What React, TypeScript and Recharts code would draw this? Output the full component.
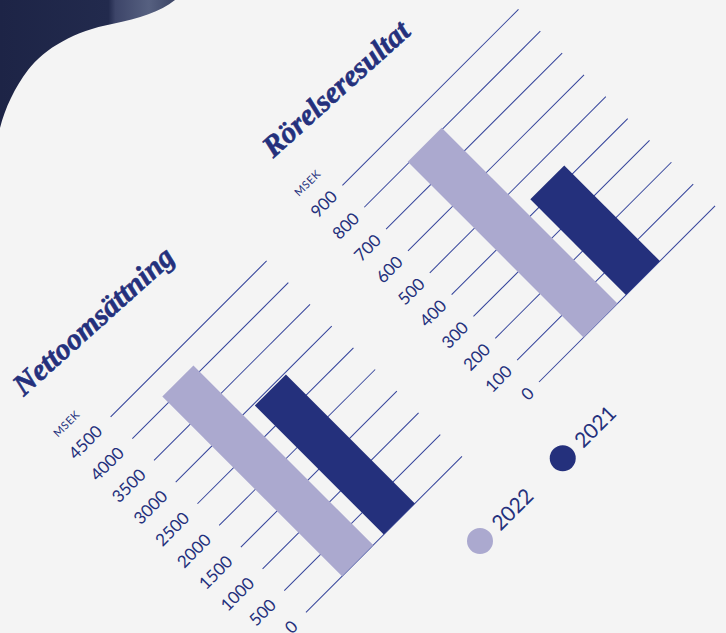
import { Bar, BarChart, CartesianGrid, XAxis, YAxis } from "recharts";

// values (MSEK)
const years = ["2022", "2021"];
const nettoValues = [4140, 2970];
const rorelseValues = [805, 438];
const nettoTicks = [0, 500, 1000, 1500, 2000, 2500, 3000, 3500, 4000, 4500];
const rorelseTicks = [0, 100, 200, 300, 400, 500, 600, 700, 800, 900];

const NAVY = "#24307c";
const LIGHT = "#aba9cf";
const GRID = "#33429a";
const BG = "#f4f4f4";
const seriesColors = [LIGHT, NAVY];

const AXIS_W = 80;
const TOP = 130;

type ChartProps = {
  title: string;
  values: number[];
  ticks: number[];
  x0: number;
  y0: number;
  plotW: number;
  plotH: number;
  barSize: number;
  barGap: number;
  padRight: number;
  tickGap: number;
  titleX: number;
  titleY: number;
  unitX: number;
};

function RotatedBars(p: ChartProps) {
  const row: Record<string, string | number> = { name: p.title };
  years.forEach((y, i) => (row["y" + y] = p.values[i]));
  const w = AXIS_W + p.plotW + 10;
  const h = TOP + p.plotH + 10;
  const ox = AXIS_W;
  const oy = TOP + p.plotH;
  const tx = ox + p.titleX;
  const ty = oy + p.titleY;

  return (
    <div
      style={{
        position: "absolute",
        left: p.x0 - ox,
        top: p.y0 - oy,
        width: w,
        height: h,
        transform: "rotate(-45deg)",
        transformOrigin: `${ox}px ${oy}px`,
      }}
    >
      <BarChart
        width={w}
        height={h}
        data={[row]}
        margin={{ top: TOP, right: 10, bottom: 10, left: 0 }}
        barGap={p.barGap}
      >
        <CartesianGrid vertical={false} stroke={GRID} strokeWidth={1} />
        <XAxis dataKey="name" hide padding={{ left: 0, right: p.padRight }} />
        <YAxis
          width={AXIS_W}
          domain={[0, p.ticks[p.ticks.length - 1]]}
          ticks={p.ticks}
          interval={0}
          axisLine={false}
          tickLine={false}
          tickSize={0}
          tickMargin={p.tickGap}
          tick={{ fill: NAVY, fontSize: 17, fontFamily: "Lato" }}
        />
        {years.map((y, i) => (
          <Bar
            key={y}
            dataKey={"y" + y}
            fill={seriesColors[i]}
            barSize={p.barSize}
            isAnimationActive={false}
          />
        ))}
      </BarChart>
      <svg
        width={w}
        height={h}
        style={{ position: "absolute", left: 0, top: 0, overflow: "visible", pointerEvents: "none" }}
      >
        <text
          x={tx}
          y={ty}
          transform={`rotate(3 ${tx} ${ty})`}
          fill={NAVY}
          stroke={NAVY}
          strokeWidth={0.6}
          fontFamily="Liberation Serif"
          fontWeight="bold"
          fontStyle="italic"
          fontSize={30}
        >
          {p.title}
        </text>
        <text
          x={ox + p.unitX}
          y={oy - p.plotH - 27}
          fill={NAVY}
          fontFamily="Lato"
          fontSize={11}
          textAnchor="middle"
          dominantBaseline="central"
          letterSpacing={0.5}
        >
          MSEK
        </text>
      </svg>
    </div>
  );
}

function Legend() {
  return (
    <div
      style={{
        position: "absolute",
        left: 480,
        top: 541,
        transform: "rotate(-45deg)",
        transformOrigin: "0 0",
      }}
    >
      {years.map((y, i) => (
        <div
          key={y}
          style={{ position: "absolute", left: i * 117 - 13, top: -13, display: "flex", alignItems: "center" }}
        >
          <div style={{ width: 26, height: 26, borderRadius: 13, background: seriesColors[i] }} />
          <span
            style={{ marginLeft: 8, fontFamily: "Lato", fontSize: 21, color: NAVY, lineHeight: "26px" }}
          >
            {y}
          </span>
        </div>
      ))}
    </div>
  );
}

export default function App() {
  return (
    <div
      style={{
        position: "absolute",
        left: 0,
        top: 0,
        width: 726,
        height: 633,
        overflow: "hidden",
        background: BG,
      }}
    >
      <svg width={200} height={140} style={{ position: "absolute", left: 0, top: 0 }}>
        <defs>
          <linearGradient id="blob" x1="0" y1="0" x2="175" y2="0" gradientUnits="userSpaceOnUse">
            <stop offset="0" stopColor="#1d2446" />
            <stop offset="0.62" stopColor="#222a4d" />
            <stop offset="0.66" stopColor="#3d4569" />
            <stop offset="0.85" stopColor="#566080" />
            <stop offset="1" stopColor="#3c4566" />
          </linearGradient>
        </defs>
        <path
          d="M0,0 H175 C160,12 140,18 112,24 C75,31 45,48 28,70 C15,87 5,108 0,128 Z"
          fill="url(#blob)"
        />
      </svg>
      <RotatedBars
        title="Nettoomsättning"
        values={nettoValues}
        ticks={nettoTicks}
        x0={305.75}
        y0={612.25}
        plotW={220.6}
        plotH={276.3}
        barSize={44}
        barGap={15}
        padRight={15.6}
        tickGap={16}
        titleX={-47}
        titleY={-352}
        unitX={-36}
      />
      <RotatedBars
        title="Rörelseresultat"
        values={rorelseValues}
        ticks={rorelseTicks}
        x0={538.6}
        y0={382.4}
        plotW={249}
        plotH={278}
        barSize={48}
        barGap={12}
        padRight={15}
        tickGap={11.5}
        titleX={-30}
        titleY={-346}
        unitX={-23}
      />
      <Legend />
    </div>
  );
}
